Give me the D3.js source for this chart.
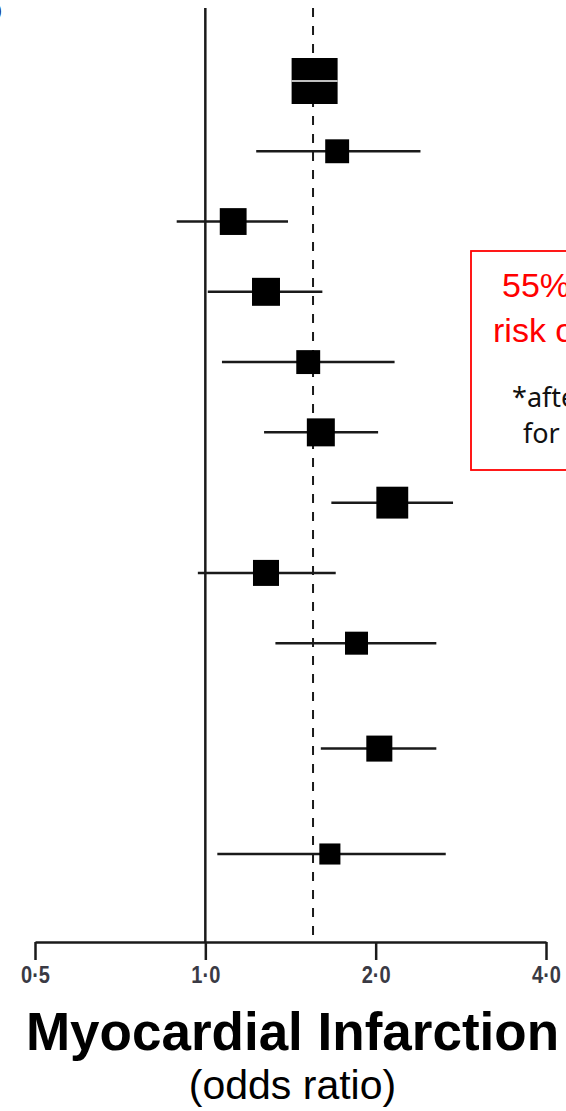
<!DOCTYPE html>
<html>
<head>
<meta charset="utf-8">
<script src="https://cdn.jsdelivr.net/npm/d3@7"></script>
<style>
  html, body { margin: 0; padding: 0; background: #fff; }
  svg { display: block; }
</style>
</head>
<body>
<div id="forest"></div>
<script>
// forest plot of myocardial infarction odds ratios (log scale)
// row order top to bottom; "" entries are blank spacer rows
const rowOrder = ["Overall", "", "Study 1", "", "Study 2", "", "Study 3", "", "Study 4", "", "Study 5", "",
    "Study 6", "", "Study 7", "", "Study 8", "", "", "Study 9", "", "", "Study 10"];
const studies = ["Overall", "Study 1", "Study 2", "Study 3", "Study 4", "Study 5", "Study 6", "Study 7", "Study 8", "Study 9", "Study 10"];
const oddsRatio = [1.56, 1.71, 1.12, 1.28, 1.52, 1.60, 2.14, 1.28, 1.85, 2.03, 1.66];
const ciLow = [1.50, 1.23, 0.89, 1.01, 1.07, 1.27, 1.67, 0.97, 1.33, 1.60, 1.05];
const ciHigh = [1.62, 2.40, 1.40, 1.61, 2.16, 2.02, 2.74, 1.70, 2.56, 2.56, 2.66];
const weights = [100, 27, 34, 37, 27, 37, 48, 32, 25, 32, 21];
const pooledOR = 1.55;
const tickValues = [0.5, 1, 2, 4];
const tickLabels = ["0·5", "1·0", "2·0", "4·0"];

const data = studies.map((s, i) => ({
    study: s, or: oddsRatio[i], lo: ciLow[i], hi: ciHigh[i], w: weights[i]
}));

const width = 566, height = 1111;
const axisY = 942, plotTop = 8;

const svg = d3.select("#forest")
    .append("svg")
    .attr("width", width)
    .attr("height", height);

// scales
const x = d3.scaleLog().domain([0.5, 4]).range([35, 546]);
const y = d3.scalePoint()
    .domain(rowOrder.map((d, i) => i))
    .range([81, 854]);
const yOf = (name) => y(rowOrder.indexOf(name));
const size = d3.scaleSqrt().domain([0, 100]).range([0, 46]);

// stray bracket left over from a panel label
svg.append("text")
    .attr("x", -4)
    .attr("y", 16)
    .style("font-family", "Liberation Sans, Arial, sans-serif")
    .style("font-size", "18px")
    .style("fill", "#22306a")
    .text(")");

// line of no effect
svg.append("line")
    .attr("x1", x(1)).attr("x2", x(1))
    .attr("y1", plotTop).attr("y2", axisY)
    .attr("stroke", "#1a1a1a")
    .attr("stroke-width", 2.5);

// pooled estimate
svg.append("line")
    .attr("x1", x(pooledOR)).attr("x2", x(pooledOR))
    .attr("y1", plotTop).attr("y2", axisY)
    .attr("stroke", "#1a1a1a")
    .attr("stroke-width", 2)
    .attr("stroke-dasharray", "9,9");

// confidence intervals
svg.selectAll("line.ci")
    .data(data)
    .enter()
    .append("line")
    .attr("class", "ci")
    .attr("x1", (d) => x(d.lo))
    .attr("x2", (d) => x(d.hi))
    .attr("y1", (d) => yOf(d.study))
    .attr("y2", (d) => yOf(d.study))
    .attr("stroke", "#1a1a1a")
    .attr("stroke-width", 2.5);

// point estimates
svg.selectAll("rect.est")
    .data(data)
    .enter()
    .append("rect")
    .attr("class", "est")
    .attr("x", (d) => x(d.or) - size(d.w) / 2)
    .attr("y", (d) => yOf(d.study) - size(d.w) / 2)
    .attr("width", (d) => size(d.w))
    .attr("height", (d) => size(d.w))
    .attr("fill", "#000");

// thin white split across the overall box
svg.append("line")
    .attr("x1", x(data[0].or) - size(data[0].w) / 2)
    .attr("x2", x(data[0].or) + size(data[0].w) / 2)
    .attr("y1", yOf("Overall"))
    .attr("y2", yOf("Overall"))
    .attr("stroke", "#fff")
    .attr("stroke-width", 1.5);

// x axis
const axis = svg.append("g")
    .attr("transform", `translate(0,${axisY})`)
    .call(d3.axisBottom(x)
        .tickValues(tickValues)
        .tickFormat((d, i) => tickLabels[i])
        .tickSize(18)
        .tickSizeOuter(0)
        .tickPadding(7));

axis.select(".domain").attr("stroke", "#1a1a1a").attr("stroke-width", 2.5);
axis.selectAll(".tick line").attr("stroke", "#1a1a1a").attr("stroke-width", 2.5);
axis.selectAll(".tick text")
    .style("font-family", "Liberation Sans, Arial, sans-serif")
    .style("font-size", "23px")
    .style("font-weight", "bold")
    .style("fill", "#3a3a44")
    .attr("textLength", 29)
    .attr("lengthAdjust", "spacingAndGlyphs");

// annotation box, runs off the right edge
svg.append("rect")
    .attr("x", 471)
    .attr("y", 251)
    .attr("width", 200)
    .attr("height", 219)
    .attr("fill", "none")
    .attr("stroke", "#ff0000")
    .attr("stroke-width", 1.8);

const red = [["55% increased", 502, 297], ["risk of MI*", 493, 342]];
svg.selectAll("text.red")
    .data(red)
    .enter()
    .append("text")
    .attr("x", (d) => d[1])
    .attr("y", (d) => d[2])
    .style("font-family", "Liberation Sans, Arial, sans-serif")
    .style("font-size", "34px")
    .style("fill", "#ff0000")
    .text((d) => d[0]);

const note = [["*after adjustment", 512, 407], ["for confounders", 523, 443]];
svg.selectAll("text.note")
    .data(note)
    .enter()
    .append("text")
    .attr("x", (d) => d[1])
    .attr("y", (d) => d[2])
    .style("font-family", "Noto Sans, sans-serif")
    .style("font-size", "27px")
    .style("fill", "#111")
    .text((d) => d[0]);

// axis title
svg.append("text")
    .attr("x", 292.5)
    .attr("y", 1050)
    .attr("text-anchor", "middle")
    .style("font-family", "Liberation Sans, Arial, sans-serif")
    .style("font-size", "53px")
    .style("font-weight", "bold")
    .text("Myocardial Infarction");

svg.append("text")
    .attr("x", 292.5)
    .attr("y", 1099)
    .attr("text-anchor", "middle")
    .style("font-family", "Liberation Sans, Arial, sans-serif")
    .style("font-size", "41px")
    .text("(odds ratio)");
</script>
</body>
</html>
